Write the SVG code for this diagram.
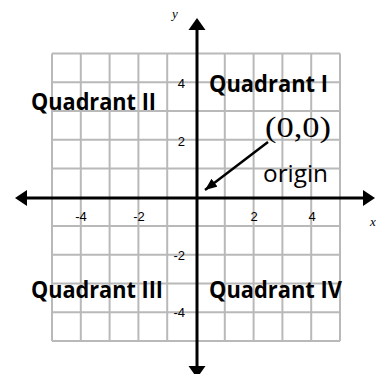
<svg xmlns="http://www.w3.org/2000/svg" width="376" height="374" viewBox="0 0 376 374">
<style>
.grid line{stroke:#b9b9b9;stroke-width:2}
.axis{stroke:#000;stroke-width:3;fill:none}
.head{fill:#000}
.q{font-family:"Open Sans","Liberation Sans",sans-serif;font-weight:bold;font-size:24px;fill:#000}
.tick{font-family:"Liberation Sans",Arial,sans-serif;font-size:13px;fill:#000}
.var{font-family:"Liberation Serif","Times New Roman",serif;font-style:italic;font-size:13px;fill:#000}
</style>
<defs>
<marker id="ptr" viewBox="0 0 12 10" refX="12" refY="5" markerWidth="12" markerHeight="10" markerUnits="userSpaceOnUse" orient="auto">
<path d="M0,0 L12,5 L0,10 Z" fill="#000"/>
</marker>
</defs>
<rect width="376" height="374" fill="#fff"/>
<g id="grid" class="grid">
<line x1="52" y1="53.5" x2="52" y2="341"/>
<line x1="80.8" y1="53.5" x2="80.8" y2="341"/>
<line x1="109.6" y1="53.5" x2="109.6" y2="341"/>
<line x1="138.4" y1="53.5" x2="138.4" y2="341"/>
<line x1="167.2" y1="53.5" x2="167.2" y2="341"/>
<line x1="224.8" y1="53.5" x2="224.8" y2="341"/>
<line x1="253.6" y1="53.5" x2="253.6" y2="341"/>
<line x1="282.4" y1="53.5" x2="282.4" y2="341"/>
<line x1="311.2" y1="53.5" x2="311.2" y2="341"/>
<line x1="340" y1="53.5" x2="340" y2="341"/>
<line x1="52" y1="53.5" x2="340" y2="53.5"/>
<line x1="52" y1="82.25" x2="340" y2="82.25"/>
<line x1="52" y1="111" x2="340" y2="111"/>
<line x1="52" y1="139.75" x2="340" y2="139.75"/>
<line x1="52" y1="168.5" x2="340" y2="168.5"/>
<line x1="52" y1="226" x2="340" y2="226"/>
<line x1="52" y1="254.75" x2="340" y2="254.75"/>
<line x1="52" y1="283.5" x2="340" y2="283.5"/>
<line x1="52" y1="312.25" x2="340" y2="312.25"/>
<line x1="52" y1="341" x2="340" y2="341"/>
</g>
<g id="ticks" class="tick">
<text x="185" y="88" text-anchor="end">4</text>
<text x="185" y="146" text-anchor="end">2</text>
<text x="185" y="260" text-anchor="end">-2</text>
<text x="185" y="317" text-anchor="end">-4</text>
<text x="81" y="221" text-anchor="middle">-4</text>
<text x="139" y="221" text-anchor="middle">-2</text>
<text x="254" y="221" text-anchor="middle">2</text>
<text x="312" y="221" text-anchor="middle">4</text>
</g>
<g id="axes">
<line class="axis" x1="24" y1="198" x2="366" y2="198"/>
<polygon class="head" points="15,198 27,190 27,206"/>
<polygon class="head" points="375,198 363,190 363,206"/>
<line class="axis" x1="197" y1="27" x2="197" y2="368"/>
<polygon class="head" points="197,18 188.5,30 205.5,30"/>
<polygon class="head" points="197,378 188.5,366 205.5,366"/>
<text class="var" x="172" y="18">y</text>
<text class="var" x="370" y="226">x</text>
</g>
<g id="quadrant-1"><text class="q" x="209" y="92" textLength="119" lengthAdjust="spacingAndGlyphs">Quadrant I</text></g>
<g id="quadrant-2"><text class="q" x="31" y="110" textLength="125" lengthAdjust="spacingAndGlyphs">Quadrant II</text></g>
<g id="quadrant-3"><text class="q" x="31" y="298" textLength="132" lengthAdjust="spacingAndGlyphs">Quadrant III</text></g>
<g id="quadrant-4"><text class="q" x="209" y="298" textLength="133" lengthAdjust="spacingAndGlyphs">Quadrant IV</text></g>
<g id="origin-label">
<text x="265" y="137" font-family="'Liberation Serif','Times New Roman',serif" font-size="30" textLength="66" lengthAdjust="spacingAndGlyphs">(0,0)</text>
<text x="263" y="182" font-family="'Open Sans','Liberation Sans',sans-serif" font-size="24" textLength="65" lengthAdjust="spacingAndGlyphs">origin</text>
</g>
<g id="connectors">
<line x1="268" y1="142" x2="205" y2="190" stroke="#000" stroke-width="2.5" marker-end="url(#ptr)"/>
</g>
</svg>
